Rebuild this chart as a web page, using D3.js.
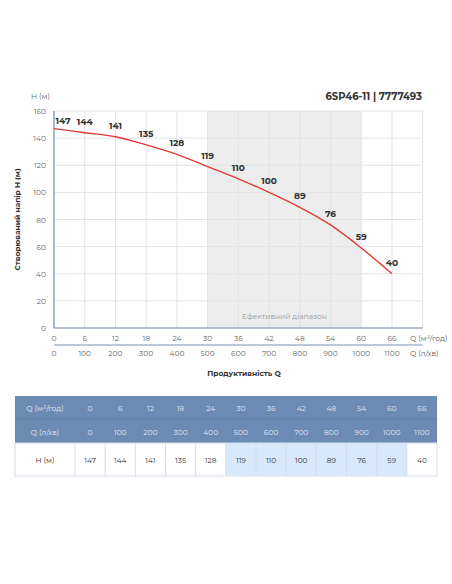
<!DOCTYPE html><html><head><meta charset="utf-8"><script src="https://d3js.org/d3.v7.min.js"></script>
<style>body{margin:0;background:#fff;font-family:Montserrat,"Noto Sans",sans-serif}</style></head><body><svg id="c" width="452" height="584"></svg><script>
const qM3 = [0,6,12,18,24,30,36,42,48,54,60,66];
const qLmin = [0,100,200,300,400,500,600,700,800,900,1000,1100];
const head = [147,144,141,135,128,119,110,100,89,76,59,40];
const yTicks = [0,20,40,60,80,100,120,140,160];
const effRange = [30,60];
const svg = d3.select("#c");
const x = d3.scaleLinear().domain([0,66]).range([54,392]);
const y = d3.scaleLinear().domain([0,160]).range([328,111]);
const g = svg.append("g");
g.append("rect").attr("x",x(effRange[0])).attr("width",x(effRange[1])-x(effRange[0])).attr("y",y(160)).attr("height",y(0)-y(160)).attr("fill","#ededed");
const xt = qM3.concat([72]);
xt.forEach(v=>g.append("line").attr("x1",x(v)).attr("x2",x(v)).attr("y1",y(0)).attr("y2",y(160)).attr("stroke","#e3e3e3"));
yTicks.forEach(v=>g.append("line").attr("x1",x(0)).attr("x2",x(72)).attr("y1",y(v)).attr("y2",y(v)).attr("stroke","#e3e3e3"));
g.append("text").attr("x",(x(30)+x(60))/2).attr("y",319).attr("text-anchor","middle").attr("font-size",7.5).attr("fill","#999").text("Ефективний діапазон");
// axes
g.append("line").attr("x1",x(0)).attr("x2",x(72)).attr("y1",y(0)).attr("y2",y(0)).attr("stroke","#7a92b0").attr("stroke-width",1.2);
g.append("line").attr("x1",x(0)).attr("x2",x(0)).attr("y1",y(0)).attr("y2",y(160)).attr("stroke","#7a92b0").attr("stroke-width",1.2);
g.append("line").attr("x1",x(0)).attr("x2",x(72)).attr("y1",345).attr("y2",345).attr("stroke","#7a92b0").attr("stroke-width",1.2);
yTicks.forEach(v=>g.append("text").attr("x",46).attr("y",y(v)+3).attr("text-anchor","end").attr("font-size",7.5).attr("fill","#666").text(v));
qM3.forEach((v,i)=>{g.append("text").attr("x",x(v)).attr("y",341).attr("text-anchor","middle").attr("font-size",7.5).attr("fill","#666").text(v);
 g.append("text").attr("x",x(v)).attr("y",356).attr("text-anchor","middle").attr("font-size",7.5).attr("fill","#666").text(qLmin[i]);});
g.append("text").attr("x",410).attr("y",341).attr("font-size",7.5).attr("fill","#666").text("Q (м³/год)");
g.append("text").attr("x",410).attr("y",356).attr("font-size",7.5).attr("fill","#666").text("Q (л/хв)");
g.append("text").attr("x",244).attr("y",376).attr("text-anchor","middle").attr("font-size",7.5).attr("font-weight","bold").attr("fill","#333").text("Продуктивність Q");
g.append("text").attr("x",31).attr("y",99).attr("font-size",7.5).attr("fill","#666").text("H (м)");
g.append("text").attr("transform","translate(20,"+y(80)+") rotate(-90)").attr("text-anchor","middle").attr("font-size",7.5).attr("font-weight","bold").attr("fill","#333").text("Створюваний напір H (м)");
g.append("text").attr("x",422).attr("y",100).attr("text-anchor","end").attr("font-size",10).attr("font-weight","bold").attr("fill","#333").text("6SP46-11 | 7777493");
g.append("path").datum(qM3.map((q,i)=>[q,head[i]])).attr("d",d3.line().x(d=>x(d[0])).y(d=>y(d[1])).curve(d3.curveMonotoneX)).attr("fill","none").attr("stroke","#e53935").attr("stroke-width",1.4);
qM3.forEach((q,i)=>g.append("text").attr("x",x(q)+(i==0?9:0)).attr("y",y(head[i])-(i==0?3:8)+(i==0?-2:0)).attr("text-anchor","middle").attr("font-size",9).attr("font-weight","bold").attr("fill","#333").text(head[i]));
// table
const tx0=15, c0=60, cw=(437-75)/12, rows=[396,419,443,476];
const t=svg.append("g");
t.append("rect").attr("x",tx0).attr("y",rows[0]).attr("width",437-tx0).attr("height",rows[2]-rows[0]).attr("fill","#6b8bb3");
t.append("line").attr("x1",tx0).attr("x2",437).attr("y1",rows[1]).attr("y2",rows[1]).attr("stroke","#5f7ea6");
t.append("rect").attr("x",tx0).attr("y",rows[2]).attr("width",437-tx0).attr("height",rows[3]-rows[2]).attr("fill","#fff").attr("stroke","#d5dde8");
const cx=i=>75+cw*i;
qM3.forEach((q,i)=>{
 if(q>=effRange[0]&&q<=effRange[1]) t.append("rect").attr("x",cx(i)).attr("y",rows[2]).attr("width",cw).attr("height",rows[3]-rows[2]).attr("fill","#d8e9fb");
 t.append("line").attr("x1",cx(i)).attr("x2",cx(i)).attr("y1",rows[2]).attr("y2",rows[3]).attr("stroke","#d5dde8");
 t.append("text").attr("x",cx(i)+cw/2).attr("y",411).attr("text-anchor","middle").attr("font-size",7.5).attr("fill","#e0e8f2").text(q);
 t.append("text").attr("x",cx(i)+cw/2).attr("y",435).attr("text-anchor","middle").attr("font-size",7.5).attr("fill","#e0e8f2").text(qLmin[i]);
 t.append("text").attr("x",cx(i)+cw/2).attr("y",463).attr("text-anchor","middle").attr("font-size",7.5).attr("fill","#333").text(head[i]);
});
t.append("text").attr("x",45).attr("y",411).attr("text-anchor","middle").attr("font-size",7.5).attr("fill","#e0e8f2").text("Q (м³/год)");
t.append("text").attr("x",45).attr("y",435).attr("text-anchor","middle").attr("font-size",7.5).attr("fill","#e0e8f2").text("Q (л/хв)");
t.append("text").attr("x",45).attr("y",463).attr("text-anchor","middle").attr("font-size",7.5).attr("fill","#333").text("H (м)");
</script></body></html>
